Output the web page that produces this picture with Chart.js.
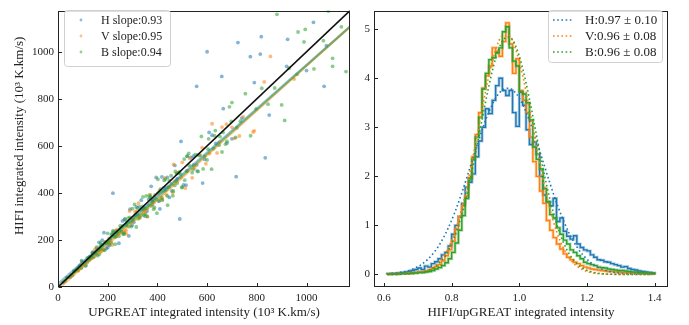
<!DOCTYPE html>
<html>
<head>
<meta charset="utf-8">
<script src="https://cdn.jsdelivr.net/npm/chart.js@4.4.1/dist/chart.umd.min.js"></script>
<style>
  body { margin: 0; background: #fff; }
  #wrap { position: relative; width: 689px; height: 325px; }
  #left { position: absolute; left: 0; top: 0; }
  #right { position: absolute; left: 356px; top: 0; }
</style>
</head>
<body>
<div id="wrap">
  <canvas id="left" width="356" height="325"></canvas>
  <canvas id="right" width="333" height="325"></canvas>
</div>
<script>
// ---- left panel: scatter HIFI vs UPGREAT ----
const scatterH = [[20,19],[35,39],[50,43],[65,66],[80,74],[95,112],[110,89],[125,124],[140,148],[155,138],[170,162],[185,231],[200,168],[215,221],[230,214],[245,186],[260,281],[275,264],[290,331],[305,275],[320,310],[335,369],[350,301],[365,372],[380,350],[395,466],[410,332],[425,421],[440,466],[458,408],[476,452],[495,619],[515,433],[535,551],[558,519],[582,442],[608,657],[635,610],[665,758],[700,630],[740,718],[790,869],[850,731],[920,938],[1000,920],[1080,1026],
  [130,124],[165,190],[195,164],[225,232],[255,237],[285,217],[315,340],[345,331],[375,428],[405,365],[435,422],[470,517],[505,434],[545,556],[590,543],
  [88,92],[118,106],[148,145],[178,199],[208,177],[238,228],[268,287],[298,262],[328,341],[358,322],[388,380],[418,468],[448,381],[480,461],[520,556],[560,493],[620,645],[680,612],
  [600,1000],[724,1039],[818,1064],[814,990],[774,979],[659,895],[558,853],[1071,853],[1028,1125],[924,1053],[490,289],[717,469],[221,399],[834,549]];
const scatterV = [[28,27],[42,43],[56,50],[68,66],[82,69],[95,100],[110,102],[122,121],[136,124],[148,160],[162,156],[176,153],[190,192],[204,192],[218,179],[232,239],[246,226],[260,255],[274,241],[288,323],[302,287],[316,322],[330,294],[344,334],[358,301],[372,391],[386,359],[400,396],[415,378],[430,464],[446,428],[462,402],[478,483],[495,465],[512,420],[530,546],[550,506],[572,561],[595,524],[620,694],[648,616],[678,692],[710,632],[745,723],[785,659],[830,872],
  [135,130],[170,148],[205,207],[240,226],[275,226],[310,319],[345,317],[380,372],[420,370],[465,521],[520,494],[580,592],[640,570],[700,679],[790,664],[855,980],[950,884],
  [72,72],[102,92],[128,123],[156,165],[182,157],[212,197],[238,245],[268,236],[296,290],[324,356],[352,324],[378,359],[408,408],[436,392],[468,449],[500,530],[540,464],[610,567],[660,680],[730,642]];
const scatterB = [[22,21],[30,26],[38,40],[45,41],[52,52],[58,49],[64,68],[70,67],[75,74],[80,72],[86,88],[92,80],[97,108],[103,97],[108,105],[113,92],[118,124],[124,115],[129,128],[134,122],[140,141],[145,129],[150,144],[155,169],[160,133],[165,157],[170,175],[175,161],[180,175],[185,159],[190,190],[195,183],[200,228],[205,185],[210,206],[215,189],[220,233],[225,214],[230,182],[235,237],[240,230],[245,216],[250,260],[255,235],[260,260],[265,225],[270,289],[275,261],[280,274],[285,257],[290,296],[295,257],[300,333],[305,287],[310,301],[315,255],[320,336],[325,302],[330,327],[335,305],[340,343],[345,307],[350,336],[355,387],[360,299],[365,347],[370,381],[375,345],[380,369],[385,331],[390,390],[396,372],[402,458],[408,367],[414,406],[420,370],[427,453],[434,412],[441,348],[448,452],[456,438],[464,408],[472,491],[480,442],[489,489],[498,423],[508,544],[518,492],[528,517],[540,486],[552,563],[564,491],[577,640],[590,555],[604,586],[618,501],[633,665],[648,603],[664,657],[680,619],[697,704],[715,636],[734,705],[754,822],[775,643],[797,757],[820,845],[845,777],[872,846],[900,774],[930,930],[962,904],[995,1095],[1030,927],[1068,1047],[1105,972],[1140,1106],
  [128,129],[142,126],[158,152],[172,187],[188,156],[202,192],[218,225],[232,213],[248,241],[262,225],[278,278],[292,274],[308,351],[322,290],[338,331],[352,310],[368,390],[382,363],[398,314],[412,416],[426,409],[440,387],[455,473],[470,432],[485,485],[500,425],[520,556],[545,518],[570,559],[600,540],[630,643],[660,574],[690,766],[720,677],
  [62,58],[78,80],[94,82],[112,111],[126,115],[138,146],[152,144],[166,139],[178,180],[192,186],[206,183],[222,240],[236,217],[252,252],[266,229],[282,293],[298,280],[312,306],[328,295],[342,383],[358,333],[372,383],[388,338],[404,400],[418,380],[432,458],[446,424],[462,388],[478,483],[494,479],[510,454],[526,568],[544,500],[562,562],[584,502],[606,630],[626,588],[652,639],[674,607],[700,784],
  [881,1159],[1088,1173],[966,1084],[990,1042],[912,708],[1159,916],[1105,938]];
const slopes = [0.93, 0.95, 0.94];
const intercepts = [14, -10, 2];
const labelsL = ["H slope:0.93", "V slope:0.95", "B slope:0.94"];
const ticksL = [0, 200, 400, 600, 800, 1000];
const axisMaxL = 1175;

// ---- right panel: ratio histograms ----
const binStart = 0.61, binWidth = 0.01;
const histH = [0.01,0.02,0.02,0.03,0.04,0.05,0.06,0.08,0.10,0.13,0.10,0.17,0.15,0.22,0.26,0.32,0.40,0.45,0.58,0.82,1.00,1.18,1.45,1.78,1.88,2.05,2.40,2.72,3.00,3.38,3.28,3.55,3.85,4.00,3.75,3.65,3.75,3.30,3.02,3.72,3.45,2.95,2.65,2.70,2.45,2.00,1.62,1.48,1.40,1.55,1.08,1.15,0.88,0.78,0.72,0.79,0.62,0.55,0.50,0.48,0.40,0.35,0.30,0.29,0.26,0.25,0.22,0.20,0.18,0.15,0.16,0.12,0.10,0.09,0.07,0.06,0.05,0.04,0.03];
const histV = [0.01,0.01,0.01,0.02,0.02,0.02,0.03,0.03,0.04,0.05,0.05,0.07,0.09,0.12,0.16,0.20,0.28,0.38,0.50,0.68,0.92,1.18,1.40,1.60,1.98,2.40,2.85,3.30,3.80,4.05,4.25,4.62,4.55,4.45,4.75,5.13,4.70,4.10,4.40,3.75,3.55,3.30,2.80,2.30,2.00,1.70,1.45,1.10,0.90,0.75,0.62,0.52,0.42,0.35,0.30,0.25,0.22,0.18,0.15,0.13,0.11,0.10,0.09,0.08,0.07,0.06,0.06,0.05,0.05,0.04,0.04,0.03,0.03,0.03,0.02,0.02,0.02,0.02,0.01];
const histB = [0.01,0.01,0.01,0.01,0.02,0.02,0.02,0.03,0.03,0.04,0.04,0.05,0.06,0.08,0.11,0.14,0.18,0.24,0.32,0.45,0.64,0.90,1.20,1.55,1.95,2.35,2.80,3.20,3.78,4.10,4.38,4.42,4.52,4.62,4.95,5.05,4.62,4.35,4.25,3.72,3.68,3.50,3.15,2.60,2.35,2.15,1.75,1.48,1.22,1.15,0.95,0.82,0.70,0.62,0.50,0.45,0.38,0.32,0.25,0.22,0.20,0.18,0.15,0.14,0.13,0.11,0.10,0.09,0.08,0.08,0.07,0.06,0.05,0.05,0.04,0.04,0.03,0.03,0.02];
const fitX = [0.61,0.63,0.65,0.67,0.69,0.71,0.73,0.75,0.77,0.79,0.81,0.83,0.85,0.87,0.89,0.91,0.93,0.95,0.97,0.99,1.01,1.03,1.05,1.07,1.09,1.11,1.13,1.15,1.17,1.19,1.21,1.23,1.25,1.27,1.29,1.31,1.33,1.35,1.37,1.39];
const fitH = [0.013,0.023,0.042,0.073,0.123,0.199,0.31,0.468,0.677,0.948,1.278,1.663,2.086,2.524,2.944,3.313,3.594,3.761,3.796,3.694,3.467,3.137,2.738,2.305,1.871,1.465,1.106,0.805,0.565,0.383,0.25,0.157,0.095,0.056,0.032,0.017,0.009,0.005,0.002,0.001];
const fitV = [0.0004,0.0012,0.003,0.008,0.019,0.042,0.087,0.170,0.313,0.542,0.882,1.351,1.949,2.643,3.373,4.050,4.575,4.863,4.863,4.575,4.050,3.373,2.643,1.949,1.351,0.882,0.542,0.313,0.170,0.087,0.042,0.019,0.008,0.003,0.0012,0.0004,0.0001,0,0,0];
const fitB = [0.0004,0.0011,0.0029,0.0072,0.0168,0.037,0.077,0.151,0.278,0.485,0.794,1.226,1.783,2.444,3.157,3.841,4.404,4.758,4.844,4.647,4.200,3.576,2.870,2.170,1.546,1.037,0.656,0.391,0.220,0.116,0.058,0.027,0.012,0.005,0.002,0.0007,0.0002,0,0,0];
const labelsR = ["H:0.97 \u00b1 0.10", "V:0.96 \u00b1 0.08", "B:0.96 \u00b1 0.08"];
const ticksRx = [0.6, 0.8, 1.0, 1.2, 1.4];
const ticksRy = [0, 1, 2, 3, 4, 5];

const colors = ["#1f77b4", "#ff7f0e", "#2ca02c"];
const serif = "'Liberation Serif', 'DejaVu Serif', serif";
const tickFont = { family: serif, size: 11 };
const titleFont = { family: serif, size: 13 };

function rgba(hex, a) {
    let n = parseInt(hex.slice(1), 16);
    return `rgba(${(n >> 16) & 255},${(n >> 8) & 255},${n & 255},${a})`;
}

function toXY(pairs) {
    return pairs.map(p => ({ x: p[0], y: p[1] }));
}

function stepPoints(vals) {
    let pts = [{ x: binStart, y: 0 }];
    vals.forEach((v, i) => {
        pts.push({ x: binStart + i * binWidth, y: v });
        pts.push({ x: binStart + (i + 1) * binWidth, y: v });
    });
    pts.push({ x: binStart + vals.length * binWidth, y: 0 });
    return pts;
}

// axes frame + inward ticks (matplotlib style)
const framePlugin = {
    id: "frame",
    afterDatasetsDraw(chart) {
        let ctx = chart.ctx, a = chart.chartArea;
        let l = Math.round(a.left) + 0.5, t = Math.round(a.top) + 0.5;
        let r = Math.round(a.right) - 0.5, b = Math.round(a.bottom) - 0.5;
        ctx.save();
        ctx.strokeStyle = "#222";
        ctx.lineWidth = 1;
        ctx.beginPath();
        chart.scales.x.ticks.forEach(tk => {
            let px = Math.round(chart.scales.x.getPixelForValue(tk.value)) + 0.5;
            ctx.moveTo(px, b); ctx.lineTo(px, b - 3.5);
        });
        chart.scales.y.ticks.forEach(tk => {
            let py = Math.round(chart.scales.y.getPixelForValue(tk.value)) + 0.5;
            ctx.moveTo(l, py); ctx.lineTo(l + 3.5, py);
        });
        ctx.stroke();
        ctx.strokeRect(l, t, r - l, b - t);
        ctx.restore();
    }
};

function legendPlugin(box, labels, kind) {
    return {
        id: "legendBox",
        afterDraw(chart) {
            let ctx = chart.ctx;
            ctx.save();
            ctx.beginPath();
            ctx.roundRect(box.x, box.y, box.w, box.h, 3);
            ctx.fillStyle = "rgba(255,255,255,0.85)";
            ctx.fill();
            ctx.strokeStyle = "#d0d0d0";
            ctx.lineWidth = 1;
            ctx.stroke();
            labels.forEach((lab, i) => {
                let y = box.rows[i];
                if (kind === "dot") {
                    ctx.fillStyle = rgba(colors[i], 0.5);
                    ctx.beginPath();
                    ctx.arc(box.mark, y, 1.4, 0, Math.PI * 2);
                    ctx.fill();
                } else {
                    ctx.strokeStyle = colors[i];
                    ctx.lineWidth = 1.6;
                    ctx.setLineDash([1.6, 2.6]);
                    ctx.beginPath();
                    ctx.moveTo(box.mark, y);
                    ctx.lineTo(box.mark + 21, y);
                    ctx.stroke();
                    ctx.setLineDash([]);
                }
                ctx.fillStyle = "#222";
                ctx.font = box.font + " " + serif;
                ctx.textBaseline = "middle";
                ctx.fillText(lab, box.text, y + 0.5);
            });
            ctx.restore();
        }
    };
}

// ---------- left chart ----------
let leftSets = [];
[scatterH, scatterV, scatterB].forEach((s, i) => {
    leftSets.push({
        data: toXY(s),
        backgroundColor: rgba(colors[i], 0.55),
        borderWidth: 0,
        pointRadius: 1.9,
        order: 10 - i
    });
});
slopes.forEach((s, i) => {
    leftSets.push({
        type: "line",
        data: [{ x: 0, y: intercepts[i] }, { x: axisMaxL, y: s * axisMaxL + intercepts[i] }],
        borderColor: rgba(colors[i], 0.45),
        borderWidth: 2.2,
        pointRadius: 0,
        showLine: true,
        order: 5 - i
    });
});
leftSets.push({
    type: "line",
    data: [{ x: 0, y: 0 }, { x: axisMaxL, y: axisMaxL }],
    borderColor: "#111",
    borderWidth: 1.6,
    pointRadius: 0,
    showLine: true,
    order: 0
});

new Chart(document.getElementById("left"), {
    type: "scatter",
    data: { datasets: leftSets },
    options: {
        responsive: false,
        animation: false,
        events: [],
        layout: { padding: { left: 0, right: 6, top: 5, bottom: 0 } },
        plugins: { legend: { display: false }, tooltip: { enabled: false } },
        scales: {
            x: {
                type: "linear", min: 0, max: axisMaxL,
                grid: { display: false, drawTicks: false },
                border: { display: false },
                afterBuildTicks: s => { s.ticks = ticksL.map(v => ({ value: v })); },
                afterFit: s => { s.height = 38; },
                ticks: { color: "#222", font: tickFont, padding: 5, maxRotation: 0, callback: v => String(v) },
                title: { display: true, text: "UPGREAT integrated intensity (10\u00b3 K.km/s)", color: "#222", font: titleFont, padding: { top: 0, bottom: 5 } }
            },
            y: {
                type: "linear", min: 0, max: axisMaxL,
                grid: { display: false, drawTicks: false },
                border: { display: false },
                afterBuildTicks: s => { s.ticks = ticksL.map(v => ({ value: v })); },
                afterFit: s => { s.width = 58; },
                ticks: { color: "#222", font: tickFont, padding: 4, callback: v => String(v) },
                title: { display: true, text: "        HIFI integrated intensity (10\u00b3 K.km/s)", color: "#222", font: titleFont, padding: { top: 12, bottom: 0 } }
            }
        }
    },
    plugins: [framePlugin, legendPlugin({ x: 64.5, y: 10.5, w: 106, h: 56, rows: [20, 36, 52], mark: 81, text: 101, font: "12px" }, labelsL, "dot")]
});

// ---------- right chart ----------
let rightSets = [];
[histH, histV, histB].forEach((h, i) => {
    rightSets.push({
        data: stepPoints(h),
        borderColor: rgba(colors[i], 0.35),
        borderWidth: 3,
        pointRadius: 0,
        order: 20 - 2 * i
    });
    rightSets.push({
        data: stepPoints(h),
        borderColor: colors[i],
        borderWidth: 1.4,
        pointRadius: 0,
        order: 19 - 2 * i
    });
});
[fitH, fitV, fitB].forEach((f, i) => {
    rightSets.push({
        data: fitX.map((x, k) => ({ x: x, y: f[k] })),
        borderColor: colors[i],
        borderWidth: 1.6,
        borderDash: [1.6, 2.6],
        cubicInterpolationMode: "monotone",
        pointRadius: 0,
        order: 5 - i
    });
});

new Chart(document.getElementById("right"), {
    type: "line",
    data: { datasets: rightSets },
    options: {
        responsive: false,
        animation: false,
        events: [],
        layout: { padding: { left: 0, right: 21, top: 5, bottom: 0 } },
        plugins: { legend: { display: false }, tooltip: { enabled: false } },
        scales: {
            x: {
                type: "linear", min: 0.5705, max: 1.4395,
                grid: { display: false, drawTicks: false },
                border: { display: false },
                afterBuildTicks: s => { s.ticks = ticksRx.map(v => ({ value: v })); },
                afterFit: s => { s.height = 38; },
                ticks: { color: "#222", font: tickFont, padding: 5, maxRotation: 0, callback: v => v.toFixed(1) },
                title: { display: true, text: "HIFI/upGREAT integrated intensity", color: "#222", font: titleFont, padding: { top: 0, bottom: 5 } }
            },
            y: {
                type: "linear", min: -0.256, max: 5.38,
                grid: { display: false, drawTicks: false },
                border: { display: false },
                afterBuildTicks: s => { s.ticks = ticksRy.map(v => ({ value: v })); },
                afterFit: s => { s.width = 18; },
                ticks: { color: "#222", font: tickFont, padding: 4 }
            }
        }
    },
    plugins: [framePlugin, legendPlugin({ x: 192.5, y: 10.5, w: 114, h: 52, rows: [20, 36, 52], mark: 197, text: 229, font: "13px" }, labelsR, "dash")]
});
</script>
</body>
</html>
